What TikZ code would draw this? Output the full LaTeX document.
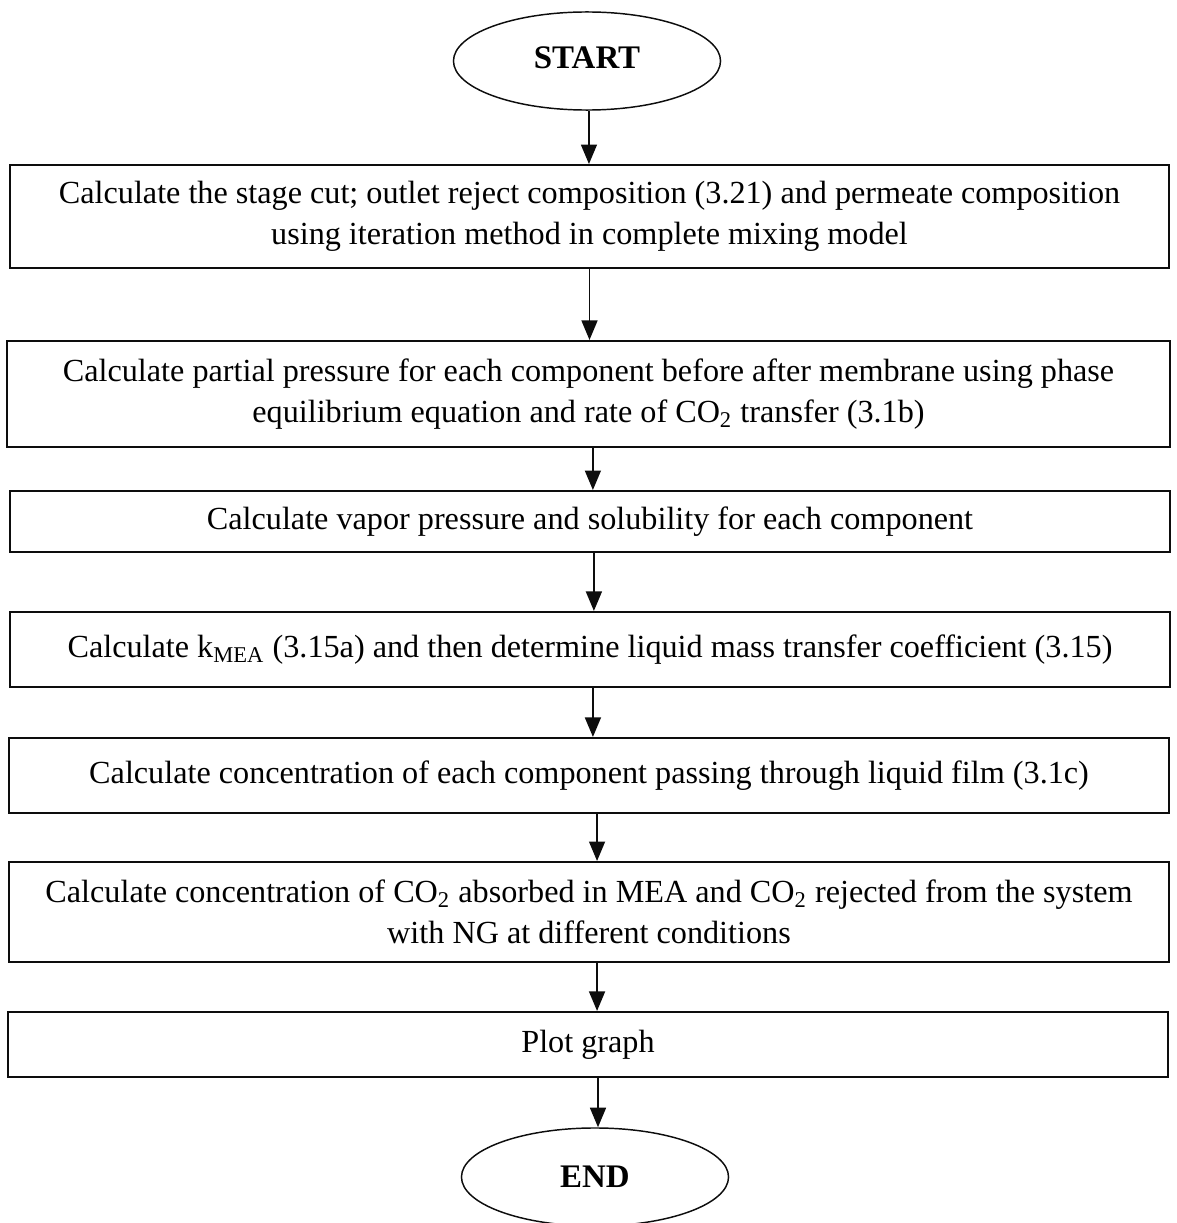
\documentclass[tikz,border=0pt]{standalone}
\usepackage{fontspec}
\setmainfont{Liberation Serif}
\usepackage{tikz}
\usetikzlibrary{arrows.meta, positioning, calc, shapes.geometric}
\definecolor{lineBlack}{gray}{0.05}

\tikzset{
    procbox/.style={draw=lineBlack, line width=0.8pt, align=center, inner sep=0pt, minimum width=475.5pt, font=\fontsize{13.2}{17}\selectfont},
    termbox/.style={draw=lineBlack, line width=0.6pt, ellipse, inner sep=0pt, minimum width=109.5pt, minimum height=40.2pt, font=\fontsize{13.5}{15}\selectfont\bfseries},
    flow/.style={-{Triangle[width=6.5pt, length=8pt]}, line width=0.8pt, lineBlack}
}

\begin{document}
\begin{tikzpicture}[x=0.41pt, y=-0.41pt]
    \useasboundingbox (0,0) rectangle (1177,1223);

    \node[termbox] (start) at (587,61) {\raisebox{2.5pt}{START}};

    \node[procbox, minimum height=42.2pt] (cut) at (589.5,216.5) {Calculate the stage cut; outlet reject composition (3.21) and permeate composition\\ using iteration method in complete mixing model};
    \node[procbox, minimum width=476.8pt, minimum height=43.5pt] (partial) at (588.5,394) {Calculate partial pressure for each component before after membrane using phase\\ equilibrium equation and rate of CO\textsubscript{2} transfer (3.1b)};
    \node[procbox, minimum height=25pt] (vapor) at (590,521.5) {Calculate vapor pressure and solubility for each component};
    \node[procbox, minimum height=30.8pt] (kmea) at (590,649.5) {Calculate k\textsubscript{MEA} (3.15a) and then determine liquid mass transfer coefficient (3.15)};
    \node[procbox, minimum height=30.8pt] (film) at (589,775.5) {Calculate concentration of each component passing through liquid film (3.1c)};
    \node[procbox, minimum height=41pt] (absorb) at (589,912) {Calculate concentration of CO\textsubscript{2} absorbed in MEA and CO\textsubscript{2} rejected from the system\\ with NG at different conditions};
    \node[procbox, minimum height=26.7pt] (plot) at (588,1044.5) {Plot graph};

    \node[termbox] (end) at (595,1177) {END};

    % arrows between steps
    \draw[flow] ([xshift=0.8pt]start.south) -- ([xshift=0.8pt]start.south |- cut.north);
    \draw[flow] (cut.south) -- (cut.south |- partial.north);
    \draw[flow] ([xshift=1.8pt]partial.south) -- ([xshift=1.8pt]partial.south |- vapor.north);
    \draw[flow] ([xshift=1.6pt]vapor.south) -- ([xshift=1.6pt]vapor.south |- kmea.north);
    \draw[flow] ([xshift=1.2pt]kmea.south) -- ([xshift=1.2pt]kmea.south |- film.north);
    \draw[flow] ([xshift=3.3pt]film.south) -- ([xshift=3.3pt]film.south |- absorb.north);
    \draw[flow] ([xshift=3.3pt]absorb.south) -- ([xshift=3.3pt]absorb.south |- plot.north);
    \draw[flow] ([xshift=4.1pt]plot.south) -- ([xshift=4.1pt]plot.south |- end.north);
\end{tikzpicture}
\end{document}
